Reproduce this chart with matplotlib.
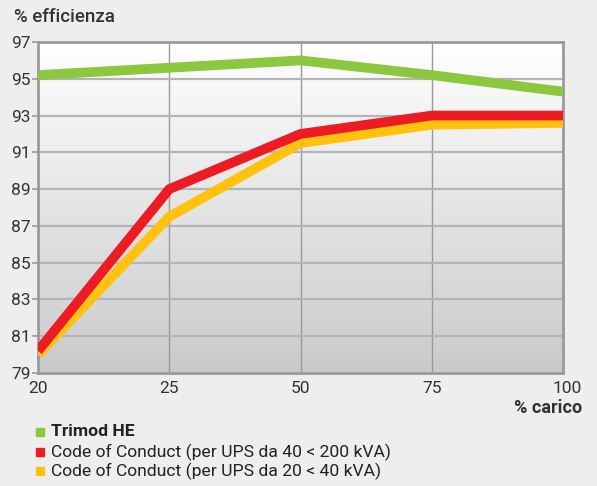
import matplotlib
matplotlib.use("Agg")
import matplotlib.pyplot as plt
import numpy as np
from matplotlib.colors import LinearSegmentedColormap
from matplotlib.transforms import offset_copy

categories = ["20", "25", "50", "75", "100"]
trimod = [95.2, 95.6, 96.0, 95.2, 94.3]
coc_40_200 = [80.2, 89.0, 92.0, 93.0, 93.0]
coc_20_40 = [80.0, 87.5, 91.5, 92.5, 92.6]
yticks = [79, 81, 83, 85, 87, 89, 91, 93, 95, 97]
legend_labels = ["Trimod HE", "Code of Conduct (per UPS da 40 < 200 kVA)",
                 "Code of Conduct (per UPS da 20 < 40 kVA)"]
colors = ["#8dc63f", "#ed1c24", "#ffc20e"]

plt.rcParams['font.family'] = ['Roboto', 'DejaVu Sans']
fig = plt.figure(figsize=(5.97, 4.86), dpi=100)
fig.patch.set_facecolor("#eeeeee")
ax = fig.add_axes([38/597, 1-373/486, (563-38)/597, (373-42)/486])

x = np.arange(len(categories))
ax.set_xlim(0, len(categories)-1)
ax.set_ylim(79, 97)

# gradient background
grad = np.linspace(0, 1, 256).reshape(-1, 1)
cmap = LinearSegmentedColormap.from_list("g", ["#ffffff", "#c9cacc"])
ax.imshow(grad, aspect="auto", cmap=cmap, extent=[0, len(categories)-1, 79, 97],
          origin="upper", zorder=0, interpolation="bilinear")

for xi in x[1:-1]:
    ax.axvline(xi, color="#9a9a9e", lw=1.0, zorder=1)
for yt in yticks[1:-1]:
    ax.axhline(yt, color="#b4b4b8", lw=1.6, zorder=1)

ax.plot(x, coc_20_40, color=colors[2], lw=7, zorder=3, solid_capstyle="butt")
ax.plot(x, coc_40_200, color=colors[1], lw=7, zorder=4, solid_capstyle="butt")
ax.plot(x, trimod, color=colors[0], lw=7, zorder=5, solid_capstyle="butt")

for s in ax.spines.values():
    s.set_color("#9a9a9e")
    s.set_linewidth(2)

ax.set_yticks(yticks)
ax.set_yticklabels([str(v) for v in yticks], fontsize=12.5, color="#333333")
ax.set_xticks(x)
ax.set_xticklabels(categories, fontsize=12.5, color="#333333")
ax.tick_params(axis="y", length=4, width=1.2, color="#9a9a9e", pad=1)
ax.tick_params(axis="x", length=0, pad=6)
lbls = ax.get_xticklabels()
lbls[-1].set_ha("right")
lbls[-1].set_transform(offset_copy(lbls[-1].get_transform(), fig=fig, x=19, y=0, units="dots"))

fig.text(14/597, 1-17/486, "% efficienza", fontsize=13.5, fontweight="medium",
         color="#333333", va="center", ha="left")
fig.text(582/597, 1-408/486, "% carico", fontsize=13, fontweight="bold",
         color="#333333", va="center", ha="right")

ys = [432, 452, 471]
for lab, c, yy, i in zip(legend_labels, colors, ys, range(3)):
    fig.patches.append(plt.Rectangle((36/597, 1-(yy+4)/486), 8/597, 8/486,
                                     transform=fig.transFigure, color=c))
    fig.text(51/597, 1-yy/486, lab, fontsize=12.6,
             fontweight="bold" if i == 0 else "normal", color="#222222",
             va="center", ha="left")

fig.savefig("out.png", dpi=100, facecolor=fig.get_facecolor())
